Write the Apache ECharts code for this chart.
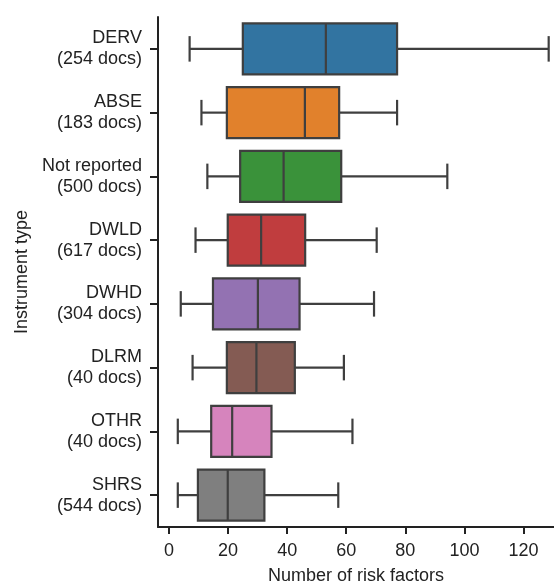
<!DOCTYPE html>
<html>
<head>
<meta charset="utf-8">
<script src="https://cdn.jsdelivr.net/npm/echarts@6/dist/echarts.min.js"></script>
<style>
  html, body { margin: 0; padding: 0; background: #fff; }
  #chart { width: 554px; height: 583px; }
</style>
</head>
<body>
<div id="chart"></div>
<script>
// categories, top to bottom
const categories = ['DERV\n(254 docs)', 'ABSE\n(183 docs)', 'Not reported\n(500 docs)', 'DWLD\n(617 docs)',
  'DWHD\n(304 docs)', 'DLRM\n(40 docs)', 'OTHR\n(40 docs)', 'SHRS\n(544 docs)'];
// whisker low, q1, median, q3, whisker high
const lowWhisker = [7, 11, 13, 9, 4, 8, 3, 3];
const q1 = [25, 19.6, 24.1, 19.9, 14.9, 19.6, 14.3, 9.8];
const median = [53.1, 46, 38.8, 31.2, 30.1, 29.6, 21.4, 19.9];
const q3 = [77.2, 57.6, 58.3, 46.1, 44.2, 42.6, 34.7, 32.3];
const highWhisker = [128.5, 77.2, 94.2, 70.3, 69.4, 59.2, 62.1, 57.3];
const boxColors = ['#3274a1', '#e1812c', '#3a923a', '#c03d3e', '#9372b2', '#845b53', '#d684bd', '#7f7f7f'];
const xTicks = [0, 20, 40, 60, 80, 100, 120];

const edge = '#3f3f3f';
const chart = echarts.init(document.getElementById('chart'));

const data = categories.map((c, i) => [i, lowWhisker[i], q1[i], median[i], q3[i], highWhisker[i]]);

function renderBox(params, api) {
  const i = api.value(0);
  const band = api.size([0, 1])[1];
  const half = band * 0.4;
  const capHalf = band * 0.2;
  const lo = api.coord([api.value(1), i]);
  const a = api.coord([api.value(2), i]);
  const m = api.coord([api.value(3), i]);
  const b = api.coord([api.value(4), i]);
  const hi = api.coord([api.value(5), i]);
  const y = a[1];
  const ls = { stroke: edge, lineWidth: 2.2 };
  return {
    type: 'group',
    children: [
      { type: 'line', shape: { x1: lo[0], y1: y, x2: a[0], y2: y }, style: ls },
      { type: 'line', shape: { x1: b[0], y1: y, x2: hi[0], y2: y }, style: ls },
      { type: 'line', shape: { x1: lo[0], y1: y - capHalf, x2: lo[0], y2: y + capHalf }, style: ls },
      { type: 'line', shape: { x1: hi[0], y1: y - capHalf, x2: hi[0], y2: y + capHalf }, style: ls },
      { type: 'rect', shape: { x: a[0], y: y - half, width: b[0] - a[0], height: half * 2 },
        style: { fill: boxColors[i], stroke: edge, lineWidth: 2.2 } },
      { type: 'line', shape: { x1: m[0], y1: y - half, x2: m[0], y2: y + half }, style: ls }
    ]
  };
}

const option = {
  animation: false,
  grid: { left: 158, right: 0, top: 17, bottom: 56, containLabel: false, outerBoundsMode: 'none' },
  xAxis: {
    type: 'value',
    min: -3.7,
    max: 130.3,
    name: 'Number of risk factors',
    nameLocation: 'middle',
    nameGap: 40,
    nameTextStyle: { fontFamily: 'Liberation Sans', fontSize: 18, color: '#222' },
    axisLine: { show: true, onZero: false, lineStyle: { color: '#222', width: 2 } },
    axisTick: { show: true, customValues: xTicks, length: 7, lineStyle: { color: '#222', width: 2 } },
    axisLabel: { customValues: xTicks, margin: 15, fontFamily: 'Liberation Sans', fontSize: 18, color: '#222' },
    splitLine: { show: false }
  },
  yAxis: {
    type: 'category',
    data: categories,
    inverse: true,
    name: 'Instrument type',
    nameLocation: 'middle',
    nameGap: 127,
    nameTextStyle: { fontFamily: 'Liberation Sans', fontSize: 18, color: '#222' },
    axisLine: { show: true, onZero: false, lineStyle: { color: '#222', width: 2 } },
    axisTick: { show: true, alignWithLabel: true, length: 8, lineStyle: { color: '#222', width: 2 } },
    axisLabel: { margin: 16, padding: [7, 0, 0, 0], fontFamily: 'Liberation Sans', fontSize: 18, lineHeight: 21, color: '#222' }
  },
  series: [{
    type: 'custom',
    renderItem: renderBox,
    encode: { x: [1, 2, 3, 4, 5], y: 0 },
    data: data
  }]
};
chart.setOption(option);
</script>
</body>
</html>
